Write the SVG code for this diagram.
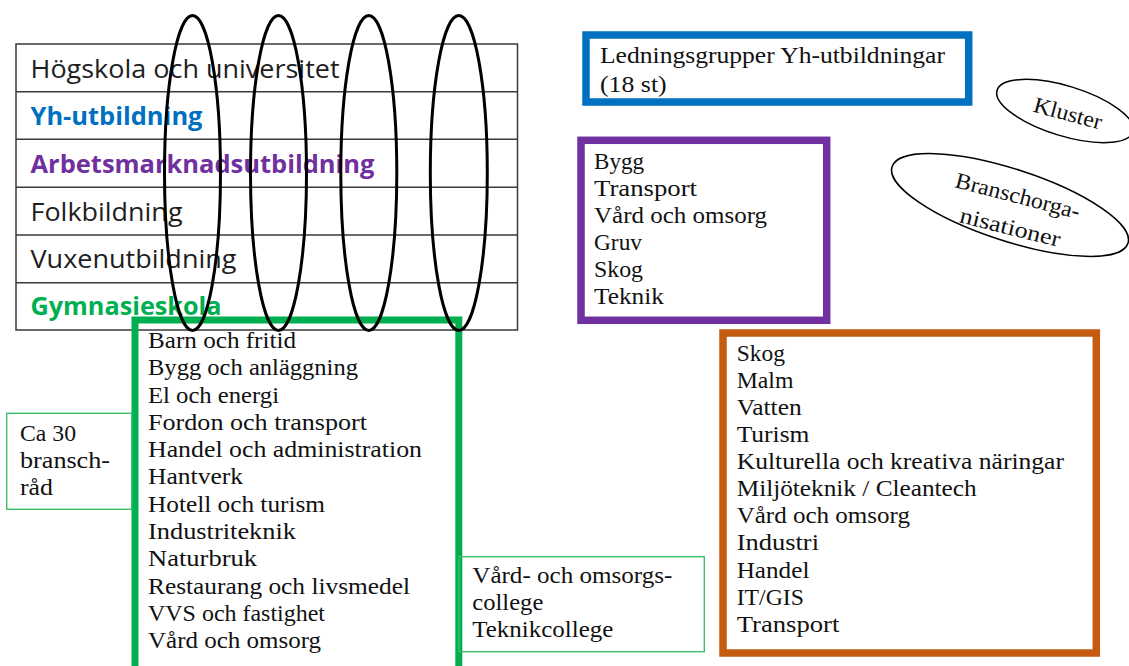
<svg xmlns="http://www.w3.org/2000/svg" width="1129" height="666" viewBox="0 0 1129 666">
<style>
.t{font-family:'Open Sans','Liberation Sans',sans-serif;font-size:25px;fill:#1e1e1e}
.b{font-weight:700}
.s{font-family:'Liberation Serif',serif;font-size:22.5px;fill:#111}
.tl{fill:none;stroke:#3a3a3a;stroke-width:1.5}
.ov{fill:none;stroke:#000;stroke-width:3}
.thin{fill:none;stroke:#3dbf6c;stroke-width:1.4}
.el{fill:none;stroke:#000;stroke-width:1.5}
</style>
<rect width="1129" height="666" fill="#fff"/>

<g id="table">
  <rect class="tl" x="16" y="44" width="501.5" height="286"/>
  <line class="tl" x1="16" y1="91.7" x2="517.5" y2="91.7"/>
  <line class="tl" x1="16" y1="139.3" x2="517.5" y2="139.3"/>
  <line class="tl" x1="16" y1="187.3" x2="517.5" y2="187.3"/>
  <line class="tl" x1="16" y1="235" x2="517.5" y2="235"/>
  <line class="tl" x1="16" y1="282.7" x2="517.5" y2="282.7"/>
  <text class="t" x="30.5" y="78.3" textLength="309" lengthAdjust="spacingAndGlyphs">Högskola och universitet</text>
  <text class="t b" x="30.5" y="125" textLength="172" lengthAdjust="spacingAndGlyphs" style="fill:#0070C0">Yh-utbildning</text>
  <text class="t b" x="30.5" y="173.3" textLength="344" lengthAdjust="spacingAndGlyphs" style="fill:#7030A0">Arbetsmarknadsutbildning</text>
  <text class="t" x="30.5" y="220.7" textLength="152" lengthAdjust="spacingAndGlyphs">Folkbildning</text>
  <text class="t" x="30.5" y="268.3" textLength="206" lengthAdjust="spacingAndGlyphs">Vuxenutbildning</text>
  <text class="t b" x="30.5" y="315" textLength="191" lengthAdjust="spacingAndGlyphs" style="fill:#00B050">Gymnasieskola</text>
</g>

<g id="gymnasie-program">
  <rect x="135" y="320" width="323.8" height="400" fill="none" stroke="#00B050" stroke-width="7"/>
  <text class="s" x="148" y="348" textLength="148" lengthAdjust="spacingAndGlyphs">Barn och fritid</text>
  <text class="s" x="148" y="375.3" textLength="210" lengthAdjust="spacingAndGlyphs">Bygg och anläggning</text>
  <text class="s" x="148" y="402.5" textLength="131" lengthAdjust="spacingAndGlyphs">El och energi</text>
  <text class="s" x="148" y="429.8" textLength="219" lengthAdjust="spacingAndGlyphs">Fordon och transport</text>
  <text class="s" x="148" y="457.1" textLength="274" lengthAdjust="spacingAndGlyphs">Handel och administration</text>
  <text class="s" x="148" y="484.4" textLength="95" lengthAdjust="spacingAndGlyphs">Hantverk</text>
  <text class="s" x="148" y="511.6" textLength="177" lengthAdjust="spacingAndGlyphs">Hotell och turism</text>
  <text class="s" x="148" y="538.9" textLength="148" lengthAdjust="spacingAndGlyphs">Industriteknik</text>
  <text class="s" x="148" y="566.2" textLength="109" lengthAdjust="spacingAndGlyphs">Naturbruk</text>
  <text class="s" x="148" y="593.5" textLength="262" lengthAdjust="spacingAndGlyphs">Restaurang och livsmedel</text>
  <text class="s" x="148" y="620.7" textLength="177" lengthAdjust="spacingAndGlyphs">VVS och fastighet</text>
  <text class="s" x="148" y="648" textLength="173" lengthAdjust="spacingAndGlyphs">Vård och omsorg</text>
</g>

<g id="ellipses">
  <ellipse class="ov" cx="192.5" cy="173" rx="28" ry="157.5"/>
  <ellipse class="ov" cx="278.5" cy="173" rx="28" ry="157.5"/>
  <ellipse class="ov" cx="368.8" cy="173" rx="28" ry="157.5"/>
  <ellipse class="ov" cx="458.8" cy="173" rx="28.5" ry="157.5"/>
</g>

<g id="branschrad">
  <rect class="thin" x="6.7" y="413.3" width="125" height="96"/>
  <text class="s" x="20" y="441" textLength="56" lengthAdjust="spacingAndGlyphs">Ca 30</text>
  <text class="s" x="20" y="468.3" textLength="90" lengthAdjust="spacingAndGlyphs">bransch-</text>
  <text class="s" x="20" y="495.3" textLength="33" lengthAdjust="spacingAndGlyphs">råd</text>
</g>

<g id="college">
  <rect class="thin" x="459" y="556.7" width="245.3" height="95"/>
  <text class="s" x="472.3" y="583" textLength="200" lengthAdjust="spacingAndGlyphs">Vård- och omsorgs-</text>
  <text class="s" x="472.3" y="610" textLength="71" lengthAdjust="spacingAndGlyphs">college</text>
  <text class="s" x="472.3" y="637" textLength="141" lengthAdjust="spacingAndGlyphs">Teknikcollege</text>
</g>

<g id="ledningsgrupper">
  <rect x="586" y="35" width="382.7" height="67" fill="none" stroke="#0070C0" stroke-width="7.5"/>
  <text class="s" x="600" y="63.3" textLength="345" lengthAdjust="spacingAndGlyphs">Ledningsgrupper Yh-utbildningar</text>
  <text class="s" x="600" y="92" textLength="66.7" lengthAdjust="spacingAndGlyphs">(18 st)</text>
</g>

<g id="arbetsmarknad">
  <rect x="581" y="140.3" width="245.7" height="180" fill="none" stroke="#7030A0" stroke-width="7.5"/>
  <text class="s" x="594" y="169" textLength="50" lengthAdjust="spacingAndGlyphs">Bygg</text>
  <text class="s" x="594" y="196" textLength="103" lengthAdjust="spacingAndGlyphs">Transport</text>
  <text class="s" x="594" y="223" textLength="173" lengthAdjust="spacingAndGlyphs">Vård och omsorg</text>
  <text class="s" x="594" y="250" textLength="48" lengthAdjust="spacingAndGlyphs">Gruv</text>
  <text class="s" x="594" y="277" textLength="49" lengthAdjust="spacingAndGlyphs">Skog</text>
  <text class="s" x="594" y="304" textLength="70" lengthAdjust="spacingAndGlyphs">Teknik</text>
</g>

<g id="kluster">
  <ellipse class="el" cx="1065" cy="111" rx="71" ry="25" transform="rotate(17 1065 111)"/>
  <text class="s" x="0" y="0" text-anchor="middle" textLength="70" lengthAdjust="spacingAndGlyphs" transform="translate(1066 120.5) rotate(15)">Kluster</text>
</g>

<g id="branschorganisationer">
  <ellipse class="el" cx="1010" cy="205" rx="124" ry="36" transform="rotate(18 1010 205)"/>
  <text class="s" x="0" y="0" text-anchor="middle" textLength="128" lengthAdjust="spacingAndGlyphs" transform="translate(1016 203) rotate(14.5)">Branschorga-</text>
  <text class="s" x="0" y="0" text-anchor="middle" textLength="103" lengthAdjust="spacingAndGlyphs" transform="translate(1008.5 234.5) rotate(14)">nisationer</text>
</g>

<g id="kluster-branscher">
  <rect x="723" y="333" width="373.3" height="320" fill="none" stroke="#C55A11" stroke-width="7.5"/>
  <text class="s" x="736.7" y="360.7" textLength="48.3" lengthAdjust="spacingAndGlyphs">Skog</text>
  <text class="s" x="736.7" y="387.8" textLength="56.7" lengthAdjust="spacingAndGlyphs">Malm</text>
  <text class="s" x="736.7" y="414.9" textLength="65" lengthAdjust="spacingAndGlyphs">Vatten</text>
  <text class="s" x="736.7" y="442" textLength="72.7" lengthAdjust="spacingAndGlyphs">Turism</text>
  <text class="s" x="736.7" y="469.1" textLength="327.3" lengthAdjust="spacingAndGlyphs">Kulturella och kreativa näringar</text>
  <text class="s" x="736.7" y="496.2" textLength="240" lengthAdjust="spacingAndGlyphs">Miljöteknik / Cleantech</text>
  <text class="s" x="736.7" y="523.3" textLength="173.3" lengthAdjust="spacingAndGlyphs">Vård och omsorg</text>
  <text class="s" x="736.7" y="550.4" textLength="82.3" lengthAdjust="spacingAndGlyphs">Industri</text>
  <text class="s" x="736.7" y="577.5" textLength="72.7" lengthAdjust="spacingAndGlyphs">Handel</text>
  <text class="s" x="736.7" y="604.6" textLength="67.3" lengthAdjust="spacingAndGlyphs">IT/GIS</text>
  <text class="s" x="736.7" y="631.7" textLength="102.7" lengthAdjust="spacingAndGlyphs">Transport</text>
</g>

<g id="connectors"></g>
</svg>
